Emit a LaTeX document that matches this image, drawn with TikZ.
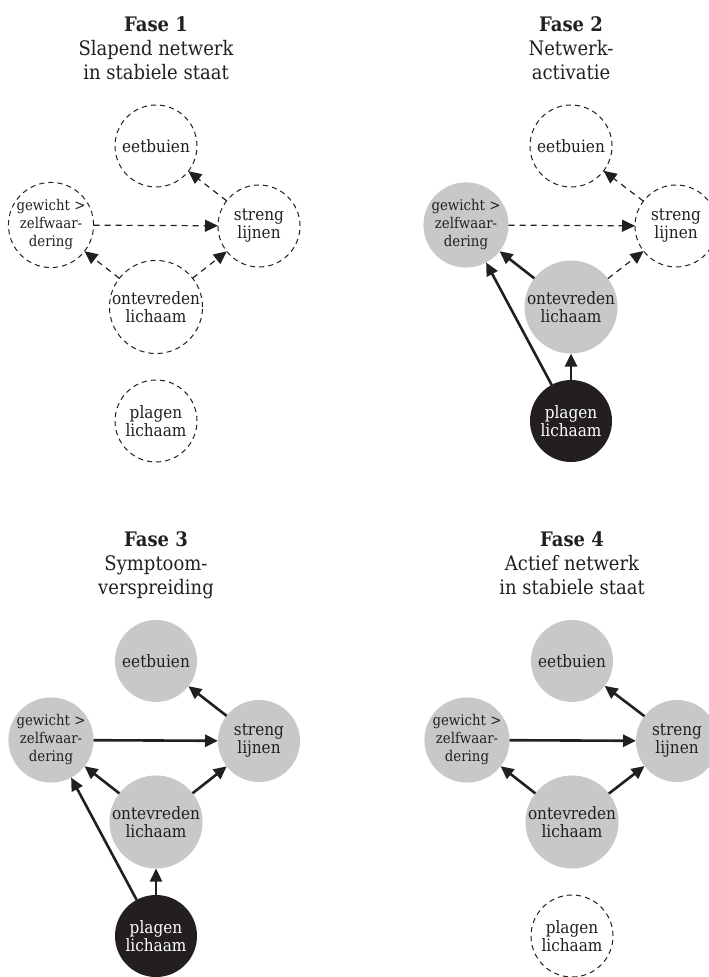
\documentclass[tikz,border=0pt]{standalone}
\usepackage{fontspec}
\setmainfont{DejaVu Serif}[FakeStretch=0.9]
\usepackage{tikz}
\usetikzlibrary{arrows.meta}
\definecolor{ink}{HTML}{231F20}
\definecolor{nodegray}{HTML}{C7C8CA}

\begin{document}
\begin{tikzpicture}[
  x=0.5pt, y=-0.5pt,
  state/.style={circle, minimum size=41pt, inner sep=0pt, outer sep=0pt, align=center,
    text=ink, font=\fontsize{8.5}{9}\selectfont},
  sleep/.style={state, draw=ink, line width=0.5pt, dash pattern=on 2.6pt off 2pt},
  lit/.style={state, fill=nodegray},
  trigger/.style={state, fill=ink, text=white},
  small/.style={font=\fontsize{7.4}{9}\selectfont},
  link/.style={-{Triangle[length=6.5pt,width=6pt]}, line width=1.3pt, draw=ink},
  weak/.style={link, line width=0.6pt, dash pattern=on 3pt off 2.5pt},
  title/.style={anchor=north, align=center, text=ink, font=\fontsize{10}{12}\selectfont}
]
  \useasboundingbox (0,0) rectangle (708,977);

  % Fase 1
  \node[title] (t1) at (156,10) {\textbf{Fase 1}\\Slapend netwerk\\in stabiele staat};
  \node[sleep] (e1) at (156,146) {eetbuien};
  \node[sleep, small] (g1) at (51,225) {gewicht >\\zelfwaar-\\dering};
  \node[sleep] (s1) at (259,226) {streng\\lijnen};
  \node[sleep] (o1) at (156,307) {ontevreden\\lichaam};
  \node[sleep] (p1) at (156,421) {plagen\\lichaam};
  \draw[weak] (s1) -- (e1);
  \draw[weak] (g1) -- (s1);
  \draw[weak] (o1) -- (g1);
  \draw[weak] (o1) -- (s1);

  % Fase 2
  \begin{scope}[shift={(415,0)}]
    \node[title] (t2) at (156,10) {\textbf{Fase 2}\\Netwerk-\\activatie};
    \node[sleep] (e2) at (156,146) {eetbuien};
    \node[lit, small] (g2) at (51,225) {gewicht >\\zelfwaar-\\dering};
    \node[sleep] (s2) at (261,226) {streng\\lijnen};
    \node[lit] (o2) at (156,307) {ontevreden\\lichaam};
    \node[trigger] (p2) at (156,421) {plagen\\lichaam};
    \draw[weak] (s2) -- (e2);
    \draw[weak] (g2) -- (s2);
    \draw[link] (o2) -- (g2);
    \draw[weak] (o2) -- (s2);
    \draw[link] (p2) -- (o2);
    \draw[link] (p2) -- (g2);
  \end{scope}

  % Fase 3
  \begin{scope}[shift={(0,515)}]
    \node[title] (t3) at (156,10) {\textbf{Fase 3}\\Symptoom-\\verspreiding};
    \node[lit] (e3) at (156,146) {eetbuien};
    \node[lit, small] (g3) at (51,225) {gewicht >\\zelfwaar-\\dering};
    \node[lit] (s3) at (259,226) {streng\\lijnen};
    \node[lit] (o3) at (156,307) {ontevreden\\lichaam};
    \node[trigger] (p3) at (156,421) {plagen\\lichaam};
    \draw[link] (s3) -- (e3);
    \draw[link] (g3) -- (s3);
    \draw[link] (o3) -- (g3);
    \draw[link] (o3) -- (s3);
    \draw[link] (p3) -- (o3);
    \draw[link] (p3) -- (g3);
  \end{scope}

  % Fase 4
  \begin{scope}[shift={(416,515)}]
    \node[title] (t4) at (156,10) {\textbf{Fase 4}\\Actief netwerk\\in stabiele staat};
    \node[lit] (e4) at (156,146) {eetbuien};
    \node[lit, small] (g4) at (51,225) {gewicht >\\zelfwaar-\\dering};
    \node[lit] (s4) at (261,226) {streng\\lijnen};
    \node[lit] (o4) at (156,307) {ontevreden\\lichaam};
    \node[sleep] (p4) at (156,421) {plagen\\lichaam};
    \draw[link] (s4) -- (e4);
    \draw[link] (g4) -- (s4);
    \draw[link] (o4) -- (g4);
    \draw[link] (o4) -- (s4);
  \end{scope}
\end{tikzpicture}
\end{document}
